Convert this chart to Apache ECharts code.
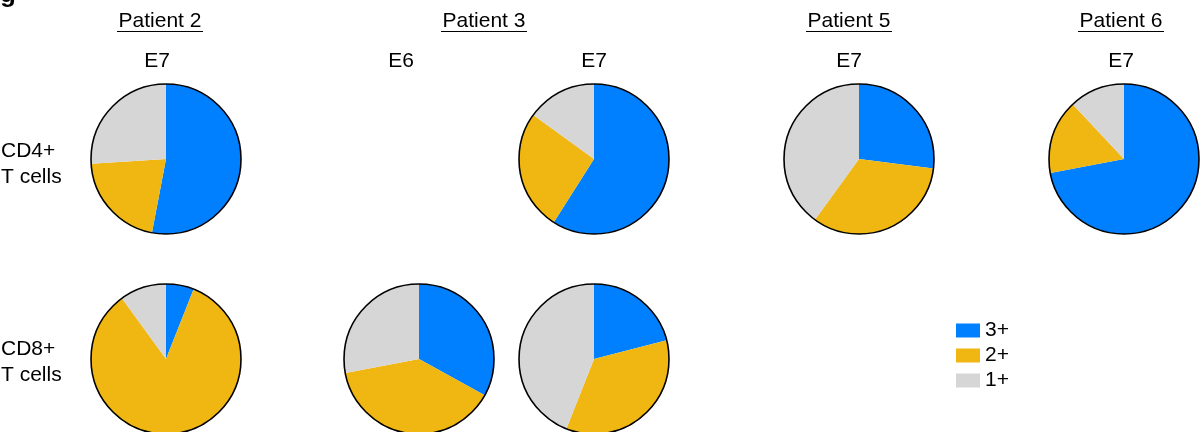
<!DOCTYPE html>
<html>
<head>
<meta charset="utf-8">
<script src="https://cdn.jsdelivr.net/npm/echarts@6/dist/echarts.min.js"></script>
<style>
    html, body {margin: 0; padding: 0; background: #fff;}
    #chart {width: 1203px; height: 432px;}
</style>
</head>
<body>
<div id="chart"></div>
<script>
// slice order: 3+, 2+, 1+ (percent), clockwise from 12 o'clock
var categories = ['3+', '2+', '1+'];
var colors = ['#0080ff', '#f0b611', '#d6d6d6'];

var p2E7CD4 = [53, 21, 26];
var p3E7CD4 = [59, 26, 15];
var p5E7CD4 = [27, 33, 40];
var p6E7CD4 = [72, 16, 12];

var p2E7CD8 = [6, 84, 10];
var p3E6CD8 = [33, 39, 28];
var p3E7CD8 = [21, 35, 44];

var patients = ['Patient 2', 'Patient 3', 'Patient 5', 'Patient 6'];
var epitopes = ['E7', 'E6', 'E7', 'E7', 'E7'];
var rowLabels = ['CD4+\nT cells', 'CD8+\nT cells'];

var R = 75;
var pies = [
    {vals: p2E7CD4, center: [166, 159]},
    {vals: p3E7CD4, center: [594, 159]},
    {vals: p5E7CD4, center: [859, 159]},
    {vals: p6E7CD4, center: [1124, 159]},
    {vals: p2E7CD8, center: [166, 359]},
    {vals: p3E6CD8, center: [419, 359]},
    {vals: p3E7CD8, center: [594, 359]}
];

var FONT = '"Liberation Sans", Arial, sans-serif';

function makePie(p){
    return {
        type: 'pie',
        center: p.center,
        radius: R,
        startAngle: 90,
        clockwise: true,
        silent: true,
        label: {show: false},
        labelLine: {show: false},
        itemStyle: {borderWidth: 0},
        data: p.vals.map(function(v, i){
            return {name: categories[i], value: v, itemStyle: {color: colors[i]}};
        })
    };
}

// plain black ring drawn over each pie (no lines between slices)
function makeOutline(p){
    return {
        type: 'pie',
        center: p.center,
        radius: R,
        silent: true,
        z: 3,
        label: {show: false},
        labelLine: {show: false},
        data: [{name: 'outline', value: 1, itemStyle: {color: 'rgba(0,0,0,0)', borderColor: '#000', borderWidth: 1.6}}]
    };
}

var series = [];
pies.forEach(function(p){
    series.push(makePie(p));
    series.push(makeOutline(p));
});

var txt = function(text, x, y, align){
    return {
        type: 'text', x: x, y: y,
        style: {text: text, font: '21px ' + FONT, fill: '#000', align: align || 'center', verticalAlign: 'middle', lineHeight: 26}
    };
};

var patientX = [160, 484, 849, 1121];
var epitopeX = [157, 401, 594, 849, 1121];

var graphic = [];
patients.forEach(function(t, i){
    graphic.push(txt(t, patientX[i], 21));
    graphic.push({
        type: 'line',
        shape: {x1: patientX[i] - 43, y1: 31.5, x2: patientX[i] + 43, y2: 31.5},
        style: {stroke: '#000', lineWidth: 1.2}
    });
});
epitopes.forEach(function(t, i){
    graphic.push(txt(t, epitopeX[i], 61));
});
graphic.push(txt(rowLabels[0], 1, 164, 'left'));
graphic.push(txt(rowLabels[1], 1, 362, 'left'));
// cut-off panel letter in the corner
graphic.push({
    type: 'text', x: 0, y: -18,
    style: {text: 'g', font: 'bold 26px ' + FONT, fill: '#000'}
});

var option = {
    animation: false,
    backgroundColor: '#fff',
    color: colors,
    legend: {
        data: categories,
        orient: 'vertical',
        left: 951,
        top: 315,
        icon: 'rect',
        itemWidth: 24,
        itemHeight: 14,
        itemGap: 4,
        selectedMode: false,
        textStyle: {fontSize: 21, fontFamily: FONT, color: '#000'}
    },
    graphic: graphic,
    series: series
};

var chart = echarts.init(document.getElementById('chart'));
chart.setOption(option);
</script>
</body>
</html>
